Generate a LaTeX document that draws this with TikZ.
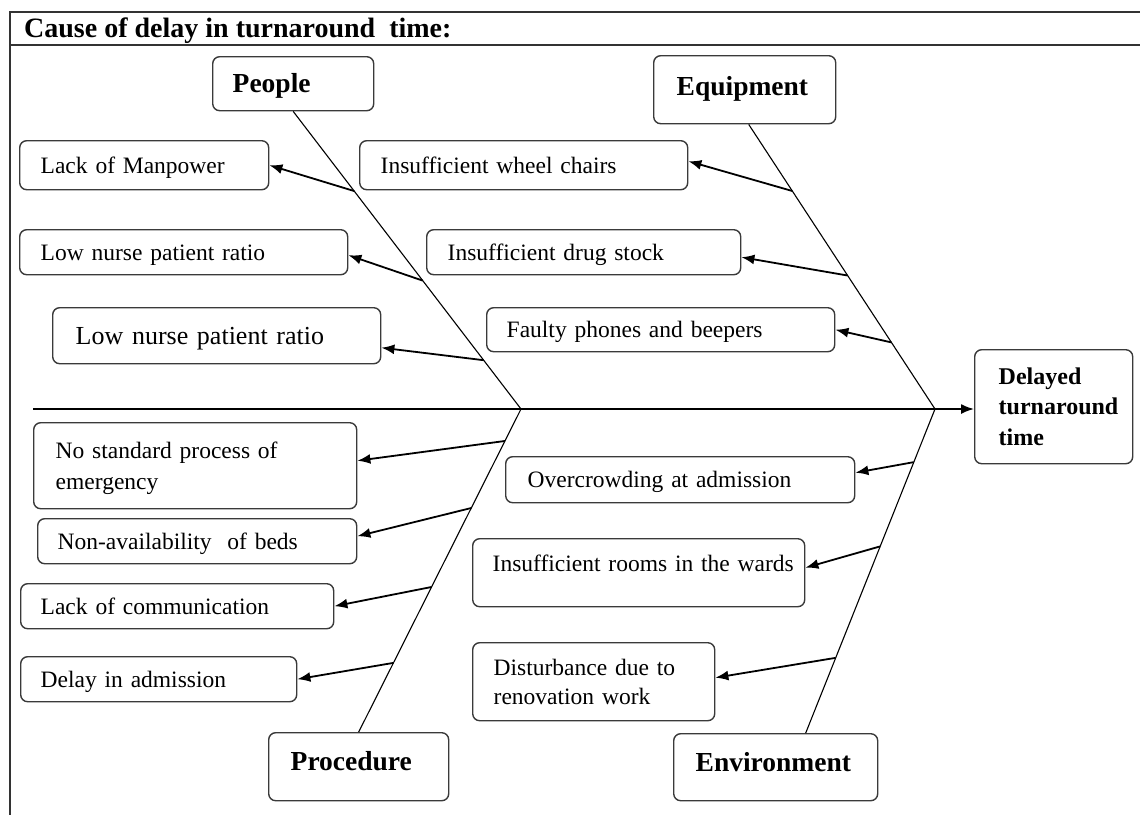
\documentclass[tikz,border=0pt]{standalone}
\usepackage{fontspec}
\setmainfont{Liberation Serif}
\usetikzlibrary{arrows.meta,calc}
\definecolor{boxc}{HTML}{3A3A3A}
\definecolor{framec}{HTML}{333333}
\newcommand{\reg}{\fontsize{23.5}{30}\selectfont}
\newcommand{\regb}{\fontsize{26}{30}\selectfont}
\newcommand{\bld}{\bfseries\fontsize{27.5}{30}\selectfont}
\newcommand{\bldsm}{\bfseries\fontsize{24}{30.5}\selectfont}
\newcommand{\ttl}{\bfseries\fontsize{28}{30}\selectfont}
\begin{document}
\begin{tikzpicture}[x=1pt,y=-1pt,
  box/.style={draw=boxc, line width=1.4pt, rounded corners=7pt, anchor=north west, align=left,
    inner ysep=0pt, font=\reg, text height=16pt, text depth=0pt},
  cat/.style={box, font=\bld, text height=18pt},
  bone/.style={line width=1.1pt, draw=black},
  spine/.style={line width=1.7pt, draw=black, -{Latex[length=13pt,width=10pt]}},
  arr/.style={line width=1.8pt, draw=black, -{Latex[length=13pt,width=10pt]}},
  frame/.style={line width=1.5pt, draw=framec}]
\useasboundingbox (0,0) rectangle (1140,814);
% frame
\draw[frame] (1141,12) -- (10,12) -- (10,815);
\draw[frame] (10,45) -- (1141,45);
\node[anchor=base west, font=\ttl, inner sep=0pt] (title) at (24,37) {Cause of delay in turnaround\ \ time:};
% category boxes
\node[cat, minimum width=161pt, minimum height=54pt, inner xsep=20pt, text width=121pt] (people) at (212,56) {People};
\node[cat, minimum width=182pt, minimum height=68pt, inner xsep=23pt, text width=136pt, text depth=6pt] (equip) at (653,55) {Equipment};
\node[cat, minimum width=180pt, minimum height=68pt, inner xsep=22pt, text width=136pt, text depth=10pt] (proc) at (268,732) {Procedure};
\node[cat, minimum width=204pt, minimum height=67pt, inner xsep=22pt, text width=160pt, text depth=9pt] (envir) at (673,733) {Environment};
\node[box, font=\bldsm, text height=16.5pt, text depth=61pt, minimum width=158pt, minimum height=114pt, inner xsep=24pt, text width=110pt] (delayed) at (974,349) {Delayed\\turnaround\\time};
% cause boxes
\node[box, minimum width=249pt, minimum height=49pt, inner xsep=21pt, text width=207pt] (lackman) at (19,140) {Lack of Manpower};
\node[box, minimum width=328pt, minimum height=45pt, inner xsep=21pt, text width=286pt] (lnra) at (19,229) {Low nurse patient ratio};
\node[box, font=\regb, text height=17pt, minimum width=328pt, minimum height=56pt, inner xsep=23pt, text width=282pt] (lnrb) at (52,307) {Low nurse patient ratio};
\node[box, minimum width=328pt, minimum height=49pt, inner xsep=21pt, text width=286pt] (wheel) at (359,140) {Insufficient wheel chairs};
\node[box, minimum width=314pt, minimum height=45pt, inner xsep=21pt, text width=272pt] (drug) at (426,229) {Insufficient drug stock};
\node[box, minimum width=348pt, minimum height=44pt, inner xsep=20pt, text width=308pt] (faulty) at (486,307) {Faulty phones and beepers};
\node[box, minimum width=323pt, minimum height=86pt, inner xsep=22pt, text width=279pt, font=\fontsize{23.5}{31}\selectfont, text depth=31pt] (nostd) at (33,422) {No standard process of\\emergency};
\node[box, minimum width=319pt, minimum height=45pt, inner xsep=20pt, text width=279pt] (nonav) at (37,518) {Non-availability\ \ of beds};
\node[box, minimum width=313pt, minimum height=45pt, inner xsep=20pt, text width=273pt] (lackcom) at (20,583) {Lack of communication};
\node[box, minimum width=276pt, minimum height=45pt, inner xsep=20pt, text width=236pt] (delayad) at (20,656) {Delay in admission};
\node[box, minimum width=349pt, minimum height=46pt, inner xsep=22pt, text width=305pt] (overc) at (505,456) {Overcrowding at admission};
\node[box, minimum width=332pt, minimum height=68pt, inner xsep=20pt, text width=292pt, text depth=18pt] (rooms) at (472,538) {\mbox{Insufficient rooms in the wards}};
\node[box, minimum width=242pt, minimum height=78pt, inner xsep=21pt, text width=200pt, font=\fontsize{23.5}{29}\selectfont, text depth=29pt] (disturb) at (472,642) {Disturbance due to\\renovation work};
% spine and bones
\coordinate (S) at (33,409);
\coordinate (L) at (521,409);
\coordinate (R) at (935,409);
\draw[spine] (S) -- (S -| delayed.west);
\draw[bone] (people.south) -- (L);
\draw[bone] ([xshift=4pt]equip.south) -- (R);
\draw[bone] (L) -- (proc.north);
\draw[bone] (R) -- ([xshift=30pt]envir.north);
% points on bones
\coordinate (a1) at ($(people.south)!0.2676!(L)$);
\coordinate (a2) at ($(people.south)!0.5686!(L)$);
\coordinate (a3) at ($(people.south)!0.836!(L)$);
\coordinate (e1) at ($([xshift=4pt]equip.south)!0.234!(R)$);
\coordinate (e2) at ($([xshift=4pt]equip.south)!0.531!(R)$);
\coordinate (e3) at ($([xshift=4pt]equip.south)!0.766!(R)$);
\coordinate (p1) at ($(L)!0.099!(proc.north)$);
\coordinate (p2) at ($(L)!0.3065!(proc.north)$);
\coordinate (p3) at ($(L)!0.551!(proc.north)$);
\coordinate (p4) at ($(L)!0.786!(proc.north)$);
\coordinate (n1) at ($(R)!0.164!([xshift=30pt]envir.north)$);
\coordinate (n2) at ($(R)!0.424!([xshift=30pt]envir.north)$);
\coordinate (n3) at ($(R)!0.768!([xshift=30pt]envir.north)$);
% arrows
\draw[arr] (a1) -- (lackman.east);
\draw[arr] (a2) -- ([yshift=-3pt]lnra.east);
\draw[arr] (a3) -- ([yshift=-12pt]lnrb.east);
\draw[arr] (e1) -- ([yshift=4pt]wheel.east);
\draw[arr] (e2) -- ([yshift=-5pt]drug.east);
\draw[arr] (e3) -- (faulty.east);
\draw[arr] (p1) -- ([yshift=5pt]nostd.east);
\draw[arr] (p2) -- ([yshift=5pt]nonav.east);
\draw[arr] (p3) -- (lackcom.east);
\draw[arr] (p4) -- (delayad.east);
\draw[arr] (n1) -- ([yshift=7pt]overc.east);
\draw[arr] (n2) -- ([yshift=5pt]rooms.east);
\draw[arr] (n3) -- ([yshift=4pt]disturb.east);
\end{tikzpicture}
\end{document}
